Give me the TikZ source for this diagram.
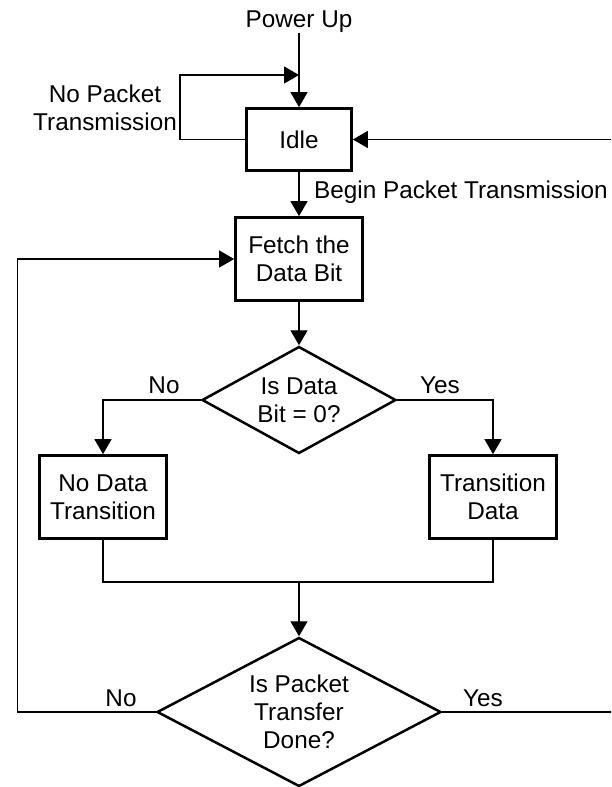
\documentclass[tikz,border=0pt]{standalone}
\usepackage{fontspec}
\setmainfont{Liberation Sans}
\usetikzlibrary{arrows.meta,shapes.geometric}
\begin{document}
\begin{tikzpicture}[x=1pt,y=-1pt,
  every node/.style={font=\fontsize{24.3}{28}\selectfont, text=black},
  procbox/.style={draw, line width=2.7pt, inner sep=0pt, align=center,
    minimum width=127pt, minimum height=83pt},
  decision/.style={diamond, draw, line width=2.5pt, inner sep=0pt, align=center},
  lbl/.style={inner sep=0pt},
  flow/.style={line width=1.4pt, -{Triangle[length=15pt,width=17pt]}},
  link/.style={line width=1.4pt}]
  \clip (0,0) rectangle (611,787);

  % process boxes and decisions
  \node[procbox, minimum width=105pt, minimum height=62pt] (idle) at (299,139.5) {Idle};
  \node[procbox] (fetch) at (299,259) {Fetch the\\Data Bit};
  \node[decision, aspect=1.813, minimum width=194pt, minimum height=107pt] (bitzero) at (299,400) {Is Data\\Bit = 0?};
  \node[procbox] (nodata) at (103,497) {No Data\\Transition};
  \node[procbox] (trdata) at (493,497) {Transition\\Data};
  \node[decision, aspect=1.906, minimum width=284pt, minimum height=149pt] (done) at (299,712) {Is Packet\\Transfer\\Done?};

  % labels
  \node[lbl, anchor=base] (pwr) at (299,27.7) {Power Up};
  \node[lbl, align=center] (nopkt) at (105,108) {No Packet\\Transmission};
  \node[lbl, anchor=base west] (begin) at (314,198.7) {Begin Packet Transmission};
  \node[lbl, anchor=base] (no1) at (164,393.7) {No};
  \node[lbl, anchor=base] (yes1) at (440,393.7) {Yes};
  \node[lbl, anchor=base] (no2) at (121,706.7) {No};
  \node[lbl, anchor=base] (yes2) at (483,706.7) {Yes};

  % routing points
  \coordinate (loopcorner) at (180,75);
  \coordinate (loopin) at (299,75);
  \coordinate (fbright) at (640,139.5);
  \coordinate (fbleft) at (17.5,259);
  \coordinate (merge) at (299,582);

  % connectors
  \draw[flow] (pwr.south) -- (idle.north);
  \draw[flow] (idle.west) -| (loopcorner) -- (loopin);
  \draw[flow] (idle.south) -- (fetch.north);
  \draw[flow] (fetch.south) -- (bitzero.north);
  \draw[flow] (bitzero.west) -| (nodata.north);
  \draw[flow] (bitzero.east) -| (trdata.north);
  \draw[link] (nodata.south) |- (merge) -| (trdata.south);
  \draw[flow] (merge) -- (done.north);
  \draw[flow] (done.west) -| (fbleft) -- (fetch.west);
  \draw[flow] (done.east) -| (fbright) -- (idle.east);
\end{tikzpicture}
\end{document}
